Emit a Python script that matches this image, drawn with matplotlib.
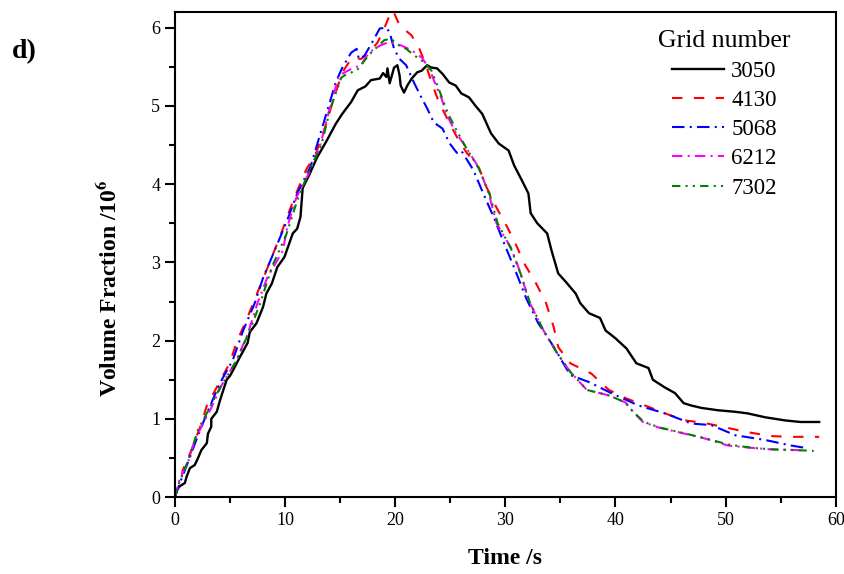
# Volume fraction vs time for five grid sizes (panel d)

import matplotlib.pyplot as plt
from matplotlib.ticker import MultipleLocator

plt.rcParams['font.family'] = ['Liberation Serif', 'DejaVu Serif']
plt.rcParams['mathtext.fontset'] = 'stix'

# values
t_3050 = [0, 0.15, 0.45, 0.9, 1.06, 1.36, 1.8, 2.1, 2.4, 2.9, 3.0, 3.3, 3.3, 3.8, 4.1, 4.4, 4.7,
          5.0, 5.2, 5.9, 6.6, 6.8, 7.4, 8.0, 8.3, 8.8, 9.3, 9.95, 10.7, 11.1, 11.4, 11.6, 12.2,
          12.9, 13.8, 14.6, 15.2, 16.0, 16.6, 17.3, 17.8, 18.6, 18.9, 19.2, 19.3, 19.5, 19.9,
          20.2, 20.4, 20.5, 20.8, 21.1, 21.5, 22.0, 22.4, 22.9, 23.3, 23.8, 24.3, 24.9, 25.5,
          26.0, 26.7, 27.3, 27.9, 28.7, 29.4, 30.3, 30.8, 31.5, 32.1, 32.3, 32.9, 33.8, 34.2,
          34.8, 35.5, 36.4, 36.8, 37.6, 38.6, 39.1, 40.0, 41.0, 41.9, 43.0, 43.4, 44.5, 45.4,
          46.2, 46.9, 47.8, 49.3, 50.9, 52.0, 53.6, 55.4, 56.8, 58.5]
v_3050 = [0, 0.09, 0.14, 0.18, 0.26, 0.37, 0.41, 0.5, 0.6, 0.69, 0.81, 0.9, 1.0, 1.09, 1.24, 1.37, 1.5,
          1.55, 1.6, 1.79, 1.97, 2.11, 2.22, 2.43, 2.6, 2.73, 2.94, 3.07, 3.37, 3.43, 3.58, 3.95, 4.12,
          4.34, 4.56, 4.77, 4.9, 5.05, 5.2, 5.25, 5.33, 5.35, 5.42, 5.37, 5.48, 5.29, 5.49,
          5.52, 5.39, 5.26, 5.17, 5.26, 5.35, 5.43, 5.45, 5.52, 5.49, 5.48, 5.41, 5.3, 5.26,
          5.16, 5.11, 5.0, 4.9, 4.65, 4.52, 4.43, 4.24, 4.05, 3.88, 3.63, 3.5, 3.37, 3.15,
          2.86, 2.75, 2.6, 2.48, 2.35, 2.29, 2.13, 2.03, 1.9, 1.71, 1.65, 1.5, 1.4, 1.33,
          1.2, 1.17, 1.14, 1.11, 1.09, 1.07, 1.02, 0.98, 0.96, 0.96]

t_4130 = [0, 0.6, 0.7, 1.5, 2.3, 2.9, 3.9, 5.0, 5.6, 6.6, 7.6, 8.75, 9.65, 10.4, 11.0, 11.9, 12.85,
          13.6, 14.3, 15.2, 16.1, 16.9, 17.6, 18.4, 19.0, 19.5, 19.8, 20.4, 21.5, 22.2, 22.8,
          23.3, 24.0, 24.9, 25.8, 26.5, 27.6, 28.3, 29.2, 30.1, 30.8, 31.7, 32.8, 33.7, 34.4,
          34.8, 35.0, 35.9, 37.8, 39.4, 41.0, 42.7, 44.5, 46.3, 48.0, 50.0, 52.0, 54.1, 55.9, 58.5]
v_4130 = [0, 0.24, 0.34, 0.6, 0.9, 1.17, 1.43, 1.72, 1.98, 2.3, 2.65, 3.05, 3.37, 3.66, 3.88, 4.18, 4.41,
          4.71, 5.04, 5.43, 5.62, 5.6, 5.68, 5.81, 5.99, 6.16, 6.22, 6.03, 5.9, 5.73, 5.52,
          5.3, 5.04, 4.79, 4.55, 4.4, 4.21, 3.96, 3.7, 3.47, 3.28, 2.99, 2.73, 2.48, 2.17,
          1.92, 1.88, 1.71, 1.58, 1.37, 1.26, 1.17, 1.07, 0.98, 0.95, 0.89, 0.83, 0.78, 0.77, 0.77]

t_5068 = [0, 0.5, 1.2, 2.1, 2.9, 4.1, 5.25, 6.2, 7.25, 8.0, 9.05, 10.2, 11.1, 12.3, 13.9, 14.6,
          15.2, 16.0, 16.5, 16.7, 17.2, 17.9, 18.6, 19.2, 19.5, 19.9, 20.4, 21.0, 21.7, 22.3,
          22.9, 23.5, 24.3, 24.9, 25.6, 26.0, 27.1, 28.0, 29.0, 29.9, 30.9, 31.9, 33.0, 34.4,
          35.1, 35.9, 37.6, 39.6, 42.1, 44.5, 46.9, 48.7, 50.9, 53.6, 55.9, 57.2]
v_5068 = [0, 0.2, 0.45, 0.79, 1.07, 1.46, 1.75, 2.13, 2.48, 2.8, 3.15, 3.54, 3.88, 4.22, 4.97, 5.3,
          5.49, 5.68, 5.73, 5.6, 5.64, 5.81, 5.99, 6.0, 5.94, 5.73, 5.6, 5.52, 5.3, 5.13,
          4.97, 4.79, 4.71, 4.53, 4.4, 4.43, 4.18, 3.88, 3.56, 3.24, 2.9, 2.54, 2.22, 1.92,
          1.75, 1.56, 1.47, 1.33, 1.17, 1.07, 0.94, 0.92, 0.79, 0.73, 0.66, 0.63]

t_6212 = [0, 0.45, 1.2, 1.8, 2.6, 3.3, 4.2, 5.6, 6.6, 7.5, 8.4, 9.8, 10.2, 11.0, 12.2, 13.2, 14.0,
          14.9, 16.1, 16.9, 17.6, 18.6, 19.3, 19.9, 20.6, 21.5, 22.4, 23.1, 23.7, 24.2, 24.7,
          25.5, 26.2, 27.6, 28.5, 29.2, 30.5, 31.4, 32.1, 33.3, 34.7, 35.9, 37.4, 39.4, 40.9,
          41.6, 42.5, 43.9, 45.7, 48.1, 50.2, 52.3, 54.1, 56.6, 57.0]
v_6212 = [0, 0.24, 0.45, 0.73, 0.95, 1.14, 1.42, 1.75, 2.08, 2.48, 2.81, 3.15, 3.45, 3.82, 4.15, 4.5, 4.94,
          5.39, 5.48, 5.52, 5.68, 5.77, 5.81, 5.8, 5.77, 5.71, 5.62, 5.48, 5.26, 5.1, 4.88,
          4.66, 4.52, 4.21, 3.88, 3.5, 3.19, 2.86, 2.52, 2.17, 1.84, 1.6, 1.37, 1.3, 1.21,
          1.09, 0.96, 0.89, 0.83, 0.75, 0.66, 0.63, 0.61, 0.6, 0.6]

t_7302 = [0, 0.3, 1.2, 2.1, 3.0, 4.1, 5.5, 6.8, 7.8, 8.8, 10.1, 11.1, 12.2, 13.3, 14.1, 15.1,
          15.6, 16.5, 17.6, 19.0, 19.6, 20.4, 21.0, 21.7, 22.6, 23.3, 24.0, 24.8, 25.6, 26.3,
          27.6, 28.6, 29.3, 30.5, 31.4, 32.2, 33.4, 34.7, 35.9, 37.4, 39.4, 40.9, 41.6, 42.6,
          44.0, 45.8, 48.2, 50.3, 52.4, 54.2, 56.5, 58.0]
v_7302 = [0, 0.15, 0.47, 0.86, 1.1, 1.4, 1.72, 2.13, 2.5, 2.94, 3.35, 3.79, 4.18, 4.5, 4.96, 5.36,
          5.41, 5.45, 5.65, 5.84, 5.86, 5.77, 5.73, 5.65, 5.56, 5.45, 5.2, 4.9, 4.68, 4.5,
          4.2, 3.86, 3.5, 3.18, 2.85, 2.5, 2.15, 1.84, 1.6, 1.37, 1.3, 1.21, 1.09, 0.96,
          0.89, 0.83, 0.75, 0.67, 0.63, 0.61, 0.6, 0.59]

labels = ['3050', '4130', '5068', '6212', '7302']

fig = plt.figure(figsize=(8.45, 5.74), dpi=100)
ax = fig.add_axes([0.207, 0.134, 0.782, 0.845])

ax.plot(t_3050, v_3050, color='black', lw=1.7, label=labels[0])
ax.plot(t_4130, v_4130, color='red', lw=1.5, linestyle=(0, (5, 5.5)), label=labels[1])
ax.plot(t_5068, v_5068, color='blue', lw=1.5, linestyle=(0, (6, 2.5, 1, 2.5)), label=labels[2])
ax.plot(t_6212, v_6212, color='magenta', lw=1.5, linestyle=(0, (5, 2.5, 1, 2.5)), label=labels[3])
ax.plot(t_7302, v_7302, color='green', lw=1.5, linestyle=(0, (4, 2.5, 1, 2.5, 1, 2.5)), label=labels[4])

ax.set_xlim(0, 60)
ax.set_ylim(0, 6.2)
ax.xaxis.set_major_locator(MultipleLocator(10))
ax.xaxis.set_minor_locator(MultipleLocator(5))
ax.yaxis.set_major_locator(MultipleLocator(1))
ax.yaxis.set_minor_locator(MultipleLocator(0.5))
ax.tick_params(which='both', direction='out', width=1.5, labelsize=13, top=False, right=False)
ax.tick_params(which='major', length=7)
ax.tick_params(which='minor', length=4)
for s in ax.spines.values():
    s.set_linewidth(1.5)

ax.set_xlabel('Time /s', fontsize=17, fontweight='bold', labelpad=14)
ax.set_ylabel(r'Volume Fraction /10$^{\mathbf{6}}$', fontsize=17, fontweight='bold')
ax.yaxis.set_label_coords(-0.08, 0.43)

leg = ax.legend(title='Grid number', loc='upper right', bbox_to_anchor=(0.963, 1.005),
                frameon=False, fontsize=16.5, title_fontsize=18.5, handlelength=2.3,
                labelspacing=0.36, handletextpad=0.3)

fig.text(0.014, 1 - 52 / 574, 'd)', fontsize=20, fontweight='bold', va='center')

plt.savefig('out.png')
